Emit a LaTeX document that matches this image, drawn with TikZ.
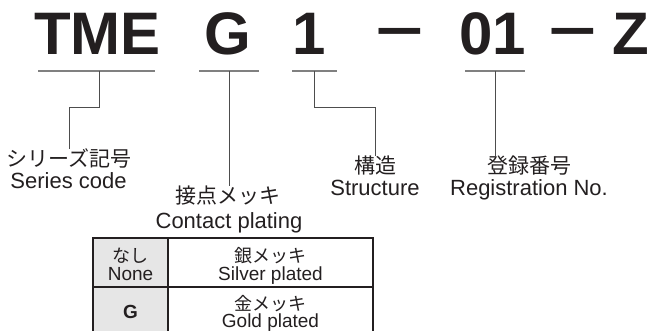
\documentclass[tikz,border=0pt]{standalone}
\usepackage{fontspec}
\setmainfont{Liberation Sans}
\newfontfamily\jp{Noto Sans CJK JP}
\definecolor{ink}{HTML}{231F20}
\definecolor{uline}{HTML}{808080}
\definecolor{connc}{HTML}{4D4D4D}
\definecolor{cellgray}{HTML}{E6E6E6}
\begin{document}
\begin{tikzpicture}[x=1pt,y=-1pt,
  big/.style={font=\fontsize{60}{60}\selectfont\bfseries, text=ink, inner sep=0pt, anchor=base},
  jplab/.style={font=\jp\fontsize{21}{21}\selectfont, text=ink, inner sep=0pt, anchor=base},
  enlab/.style={font=\fontsize{22}{22}\selectfont, text=ink, inner sep=0pt, anchor=base},
  tjp/.style={font=\jp\fontsize{18}{18}\selectfont, text=ink, inner sep=0pt, anchor=base},
  ten/.style={font=\fontsize{19}{19}\selectfont, text=ink, inner sep=0pt, anchor=base},
  ul/.style={draw=uline, line width=1.3pt},
  connline/.style={draw=connc, line width=1pt},
  cellbox/.style={draw=ink, line width=1.1pt, inner sep=0pt, minimum height=49pt},
]
\useasboundingbox (0,0) rectangle (650,331);
\clip (0,0) rectangle (650,331);
% model code
\node[big] (tme) at (97.5,55) {TME};
\node[big] (g) at (227.5,55) {G};
\node[big] (one) at (309,55) {1};
\node[big] (d1) at (400,55) {\raisebox{7pt}{\scalebox{1.4}[1]{–}}};
\node[big] (zo) at (492.5,55) {01};
\node[big] (d2) at (572.5,55) {\raisebox{7pt}{\scalebox{1.4}[1]{–}}};
\node[big] (z) at (631,55) {Z};
% underlines
\coordinate (ua) at (38,71);  \coordinate (ub) at (155,71);
\coordinate (ga) at (199,71); \coordinate (gb) at (259,71);
\coordinate (oa) at (292,71); \coordinate (ob) at (337,71);
\coordinate (ra) at (465,71); \coordinate (rb) at (525,71);
\draw[ul] (ua) -- (ub);
\draw[ul] (ga) -- (gb);
\draw[ul] (oa) -- (ob);
\draw[ul] (ra) -- (rb);
\coordinate (u1) at (99,71);
\coordinate (u2) at (229,71);
\coordinate (u3) at (314,71);
\coordinate (u4) at (495,71);
% labels
\node[jplab] (sjp) at (69,167) {シリーズ記号};
\node[enlab] (sen) at (68.5,189) {Series code};
\node[jplab] (cjp) at (228,204) {接点メッキ};
\node[enlab] (cen) at (229,228) {Contact plating};
\node[jplab] (stjp) at (375,174) {構造};
\node[enlab] (sten) at (375,196) {Structure};
\node[jplab] (rjp) at (529,174) {登録番号};
\node[enlab] (ren) at (529,196) {Registration No.};
% connectors
\draw[connline] (u1) -- ++(0,37) -| (sjp.north);
\draw[connline] (u2) -- (u2 |- cjp.north);
\draw[connline] (u3) -- ++(0,37) -| (stjp.north);
\draw[connline] (u4) -- (u4 |- rjp.north);
% table
\node[cellbox, fill=cellgray, minimum width=75pt] (c11) at (130.5,262.5) {};
\node[cellbox, minimum width=205pt] (c12) at (270.5,262.5) {};
\node[cellbox, fill=cellgray, minimum width=75pt] (c21) at (130.5,311.5) {};
\node[cellbox, minimum width=205pt] (c22) at (270.5,311.5) {};
\node[tjp] (t11a) at (130.5,262) {なし};
\node[ten] (t11b) at (130.5,280) {None};
\node[tjp] (t12a) at (270.5,262) {銀メッキ};
\node[ten] (t12b) at (270.5,280) {Silver plated};
\node[ten, font=\fontsize{19}{19}\selectfont\bfseries] (t21) at (130.5,318) {G};
\node[tjp] (t22a) at (270.5,310) {金メッキ};
\node[ten] (t22b) at (270.5,327) {Gold plated};
\end{tikzpicture}
\end{document}
